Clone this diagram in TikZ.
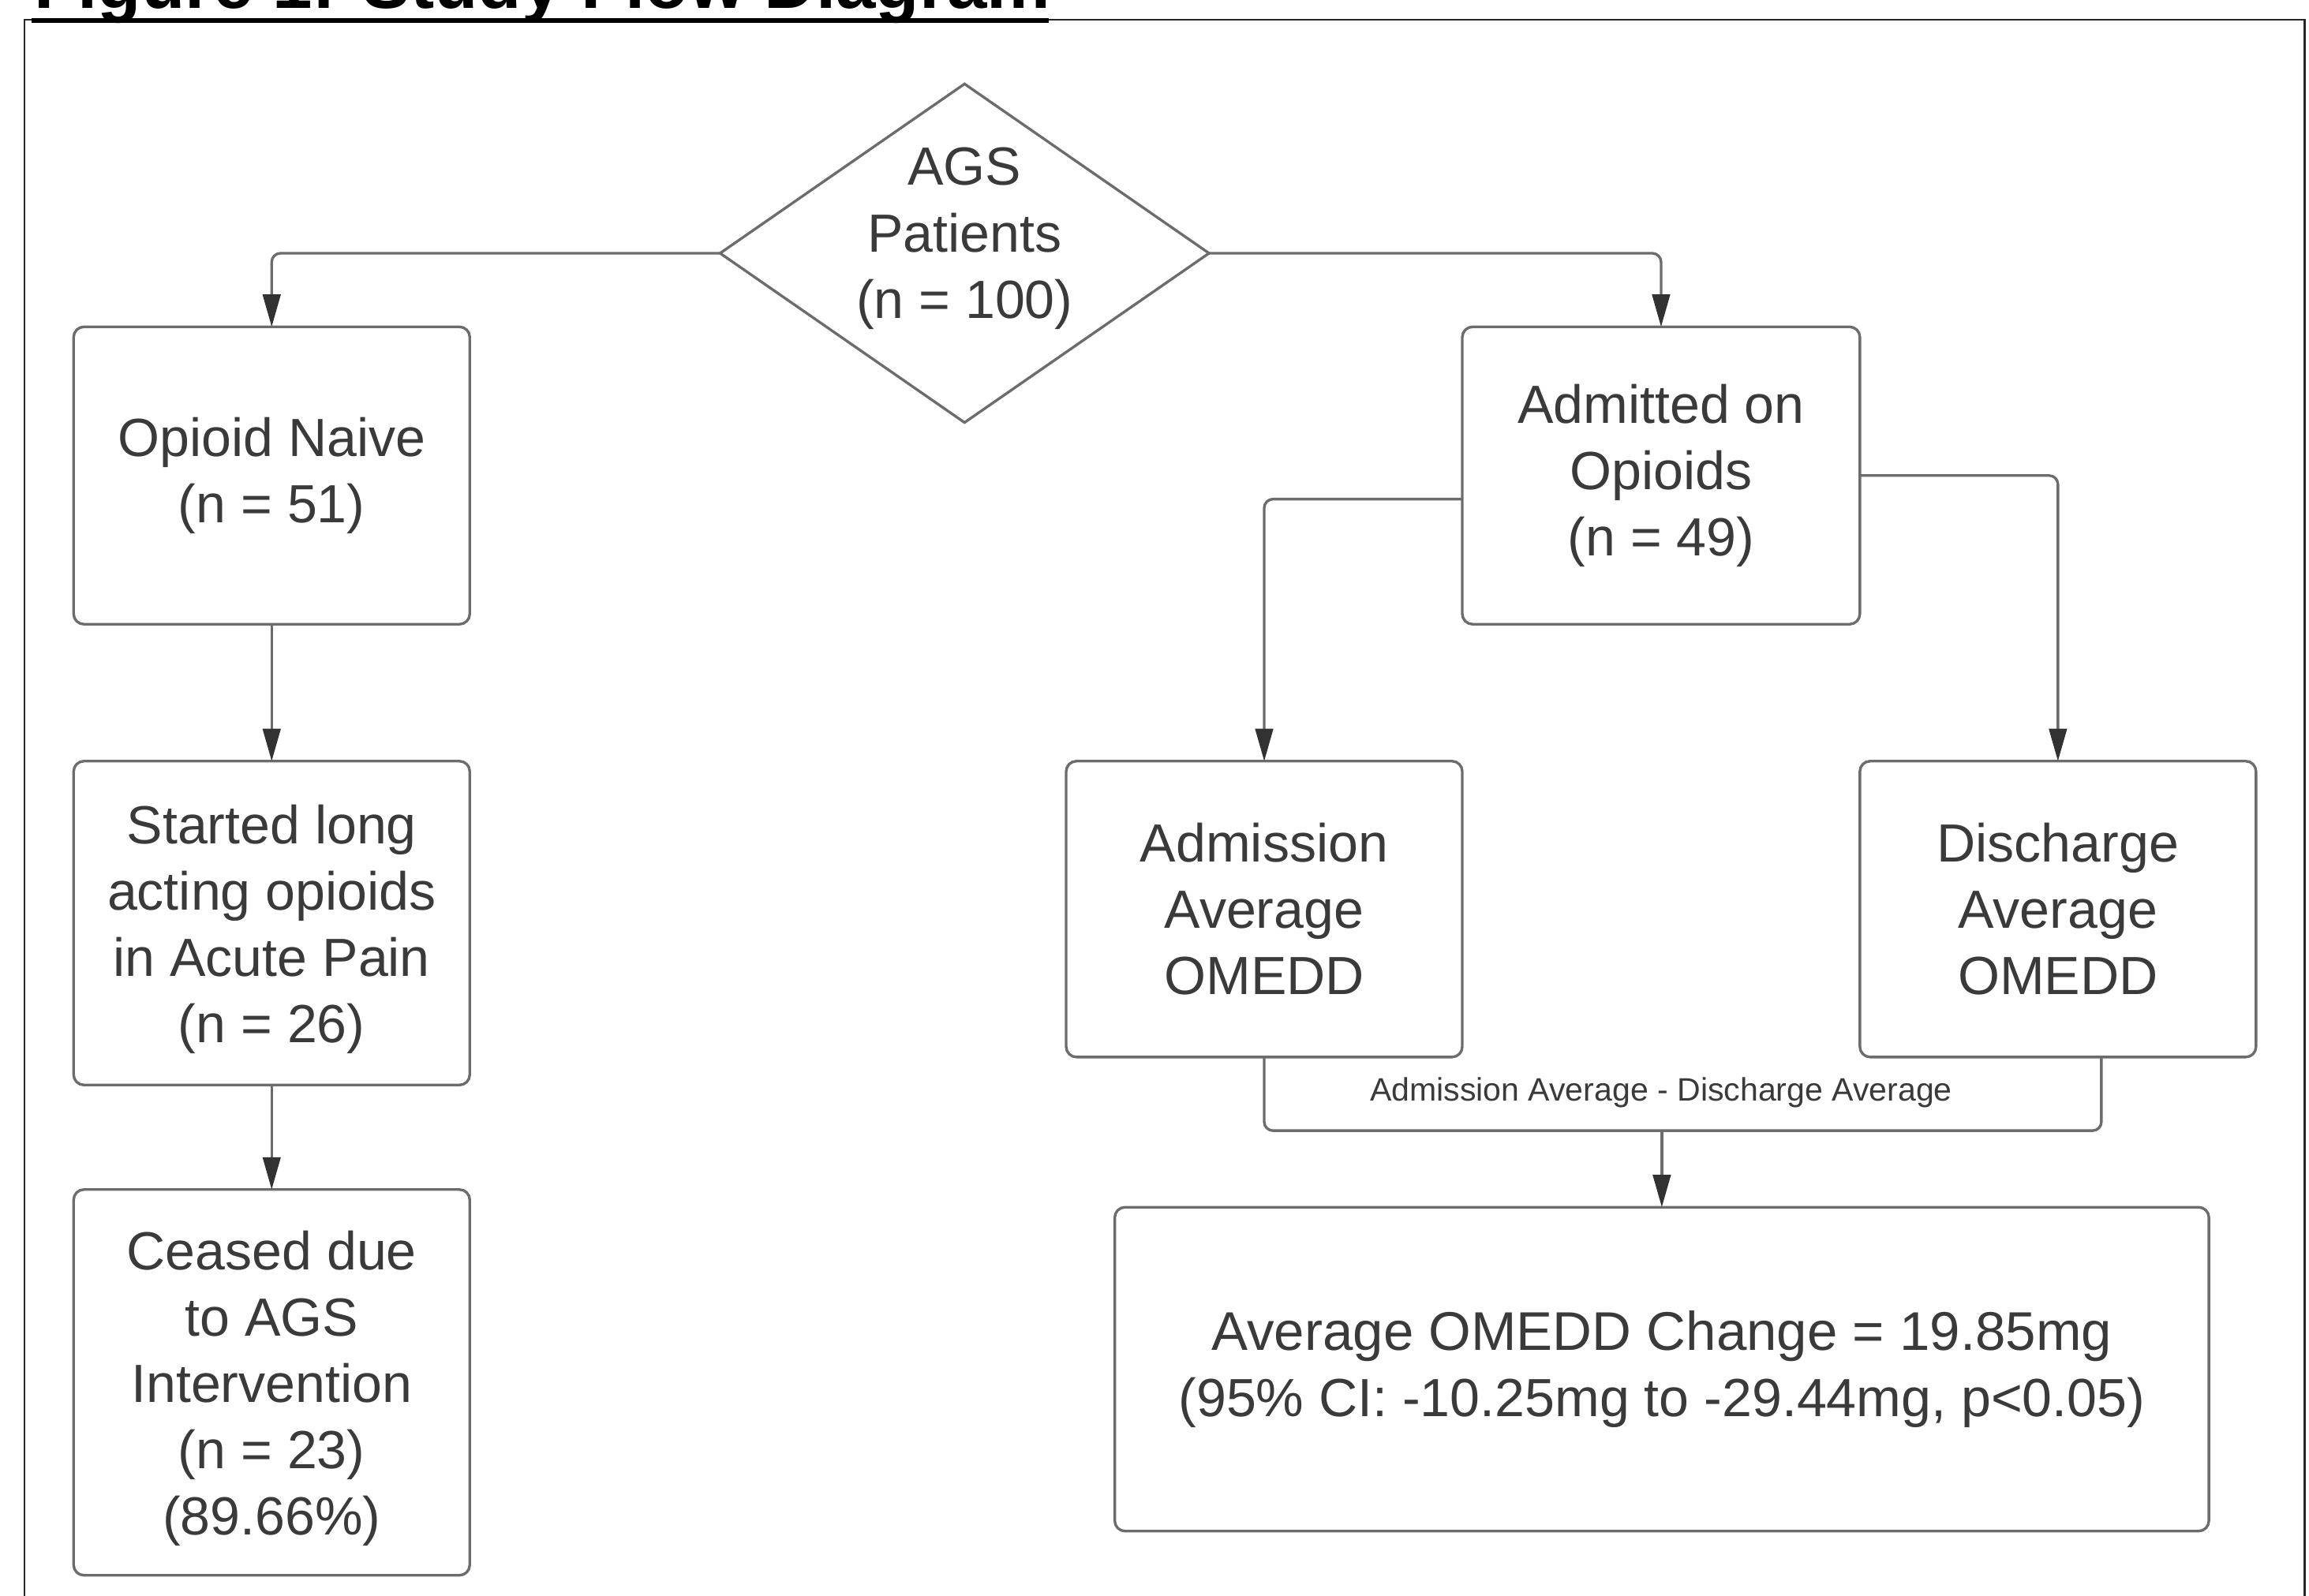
\documentclass[tikz,border=0pt]{standalone}
\usepackage{fontspec}
\setmainfont{Liberation Sans}
\usetikzlibrary{shapes.geometric,arrows.meta}
\definecolor{linegray}{RGB}{108,108,108}
\definecolor{txtgray}{RGB}{58,58,58}
\definecolor{tipgray}{RGB}{50,50,50}
\newcommand{\dn}{\rule{0pt}{35pt}}
\begin{document}
\begin{tikzpicture}[x=1pt,y=-1pt,
  box/.style={draw=linegray, line width=1.8pt, rounded corners=7pt, inner sep=0pt, outer sep=0pt,
    align=center, text=txtgray, font=\fontsize{36.5}{45}\selectfont},
  txt/.style={align=center, text=txtgray, inner sep=0pt, font=\fontsize{36.5}{45.5}\selectfont},
  conn/.style={draw=linegray, line width=1.8pt, rounded corners=6pt,
    -{Triangle[length=22pt,width=12pt,color=tipgray]}},
  wire/.style={draw=linegray, line width=1.8pt, rounded corners=6pt},
]
\useasboundingbox (0,0) rectangle (1568,1084);
\clip (0,0) rectangle (1568,1084);

% frame and title
\draw[line width=1.3pt, black!85] (16.6,1100) -- (16.6,13.3) -- (1565,13.3) -- (1565,1100);
\node[anchor=base west, inner sep=0pt, font=\fontsize{48.6}{50}\selectfont\bfseries] (title) at (23,5.4) {Figure 1: Study Flow Diagram};
\draw[line width=3.5pt, black] (21.4,14) -- (712,14);

% diamond
\node[diamond, draw=linegray, line width=1.8pt, minimum width=332pt, minimum height=230pt, inner sep=0pt, outer sep=0pt] (ags) at (655,172) {};
\node[txt] (agst) at (655,162) {AGS\\Patients\\(n = 100)};

% boxes
\node[box, minimum width=269pt, minimum height=202pt] (opn) at (184.5,323) {Opioid Naive\\(n = 51)};
\node[box, minimum width=269pt, minimum height=220pt] (sla) at (184.5,627) {\dn Started long\\acting opioids\\in Acute Pain\\(n = 26)};
\node[box, minimum width=269pt, minimum height=262pt] (ces) at (184.5,939) {\dn Ceased due\\to AGS\\Intervention\\(n = 23)\\(89.66\%)};
\node[box, minimum width=270pt, minimum height=202pt] (adm) at (1128,323) {Admitted on\\Opioids\\(n = 49)};
\node[box, minimum width=269pt, minimum height=201pt] (aad) at (858.5,617.5) {Admission\\Average\\OMEDD};
\node[box, minimum width=269pt, minimum height=201pt] (dad) at (1397.5,617.5) {Discharge\\Average\\OMEDD};
\node[box, minimum width=743pt, minimum height=220pt] (res) at (1128.5,930) {\fontsize{37}{44}\selectfont Average OMEDD Change = 19.85mg\\(95\% CI: -10.25mg to -29.44mg, p<0.05)};

% connectors
\draw[conn] (ags.west) -| (opn.north);
\draw[conn] (ags.east) -| (adm.north);
\draw[conn] (opn.south) -- (sla.north);
\draw[conn] (sla.south) -- (ces.north);
\draw[conn] ([yshift=-16pt]adm.west) -| (aad.north);
\draw[conn] (adm.east) -| (dad.north);

\coordinate (j) at (1128.5,768);
\draw[wire] (aad.south) |- (j) -| ([xshift=29.5pt]dad.south);
\draw[conn] (j) -- (res.north);
\node[text=txtgray, inner sep=0pt, font=\fontsize{22}{24}\selectfont] (lbl) at (1128,742) {Admission Average - Discharge Average};
\end{tikzpicture}
\end{document}
